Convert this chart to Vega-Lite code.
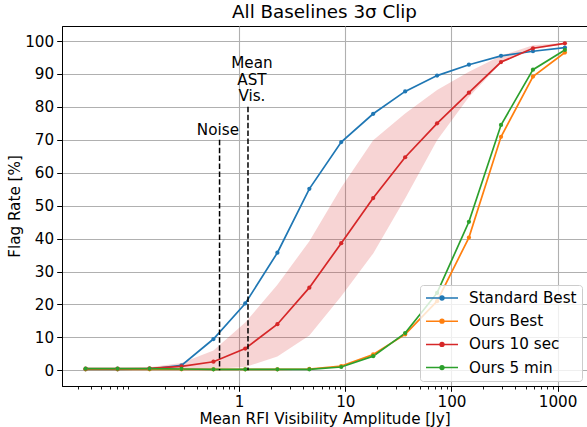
{
  "$schema": "https://vega.github.io/schema/vega-lite/v6.json",
  "width": 525,
  "height": 360,
  "autosize": {"type": "none"},
  "padding": {"left": 62, "top": 26, "right": 0, "bottom": 41},
  "title": {"text": "All Baselines 3σ Clip", "fontSize": 18.3, "fontWeight": "normal", "baseline": "bottom", "offset": 4, "dy": 18, "color": "black", "font": "DejaVu Sans", "frame": "group"},
  "datasets": {
    "series": [
      {"x": 0.0357, "series": "Standard Best", "rate": 0.3},
      {"x": 0.0714, "series": "Standard Best", "rate": 0.3},
      {"x": 0.143, "series": "Standard Best", "rate": 0.4},
      {"x": 0.286, "series": "Standard Best", "rate": 1.5},
      {"x": 0.572, "series": "Standard Best", "rate": 9.5},
      {"x": 1.14, "series": "Standard Best", "rate": 20.3},
      {"x": 2.29, "series": "Standard Best", "rate": 35.7},
      {"x": 4.58, "series": "Standard Best", "rate": 55.1},
      {"x": 9.15, "series": "Standard Best", "rate": 69.3},
      {"x": 18.3, "series": "Standard Best", "rate": 77.9},
      {"x": 36.6, "series": "Standard Best", "rate": 84.7},
      {"x": 73.2, "series": "Standard Best", "rate": 89.5},
      {"x": 146, "series": "Standard Best", "rate": 92.8},
      {"x": 293, "series": "Standard Best", "rate": 95.5},
      {"x": 586, "series": "Standard Best", "rate": 96.9},
      {"x": 1171, "series": "Standard Best", "rate": 98.0},
      {"x": 0.0357, "series": "Ours Best", "rate": 0.3},
      {"x": 0.0714, "series": "Ours Best", "rate": 0.3},
      {"x": 0.143, "series": "Ours Best", "rate": 0.3},
      {"x": 0.286, "series": "Ours Best", "rate": 0.3},
      {"x": 0.572, "series": "Ours Best", "rate": 0.3},
      {"x": 1.14, "series": "Ours Best", "rate": 0.3},
      {"x": 2.29, "series": "Ours Best", "rate": 0.3},
      {"x": 4.58, "series": "Ours Best", "rate": 0.4},
      {"x": 9.15, "series": "Ours Best", "rate": 1.3},
      {"x": 18.3, "series": "Ours Best", "rate": 4.8},
      {"x": 36.6, "series": "Ours Best", "rate": 10.9},
      {"x": 73.2, "series": "Ours Best", "rate": 21.0},
      {"x": 146, "series": "Ours Best", "rate": 40.3},
      {"x": 293, "series": "Ours Best", "rate": 70.9},
      {"x": 586, "series": "Ours Best", "rate": 89.2},
      {"x": 1171, "series": "Ours Best", "rate": 96.5},
      {"x": 0.0357, "series": "Ours 10 sec", "rate": 0.5},
      {"x": 0.0714, "series": "Ours 10 sec", "rate": 0.5},
      {"x": 0.143, "series": "Ours 10 sec", "rate": 0.6},
      {"x": 0.286, "series": "Ours 10 sec", "rate": 1.2},
      {"x": 0.572, "series": "Ours 10 sec", "rate": 2.6},
      {"x": 1.14, "series": "Ours 10 sec", "rate": 6.6},
      {"x": 2.29, "series": "Ours 10 sec", "rate": 14.0},
      {"x": 4.58, "series": "Ours 10 sec", "rate": 25.1},
      {"x": 9.15, "series": "Ours 10 sec", "rate": 38.6},
      {"x": 18.3, "series": "Ours 10 sec", "rate": 52.3},
      {"x": 36.6, "series": "Ours 10 sec", "rate": 64.7},
      {"x": 73.2, "series": "Ours 10 sec", "rate": 75.0},
      {"x": 146, "series": "Ours 10 sec", "rate": 84.3},
      {"x": 293, "series": "Ours 10 sec", "rate": 93.6},
      {"x": 586, "series": "Ours 10 sec", "rate": 97.8},
      {"x": 1171, "series": "Ours 10 sec", "rate": 99.3},
      {"x": 0.0357, "series": "Ours 5 min", "rate": 0.5},
      {"x": 0.0714, "series": "Ours 5 min", "rate": 0.5},
      {"x": 0.143, "series": "Ours 5 min", "rate": 0.5},
      {"x": 0.286, "series": "Ours 5 min", "rate": 0.4},
      {"x": 0.572, "series": "Ours 5 min", "rate": 0.3},
      {"x": 1.14, "series": "Ours 5 min", "rate": 0.3},
      {"x": 2.29, "series": "Ours 5 min", "rate": 0.3},
      {"x": 4.58, "series": "Ours 5 min", "rate": 0.3},
      {"x": 9.15, "series": "Ours 5 min", "rate": 1.0},
      {"x": 18.3, "series": "Ours 5 min", "rate": 4.3},
      {"x": 36.6, "series": "Ours 5 min", "rate": 11.3},
      {"x": 73.2, "series": "Ours 5 min", "rate": 23.5},
      {"x": 146, "series": "Ours 5 min", "rate": 45.1},
      {"x": 293, "series": "Ours 5 min", "rate": 74.5},
      {"x": 586, "series": "Ours 5 min", "rate": 91.3},
      {"x": 1171, "series": "Ours 5 min", "rate": 97.3}
    ],
    "band": [
      {"x": 0.0357, "lo": 0.4, "hi": 0.6},
      {"x": 0.0714, "lo": 0.4, "hi": 0.6},
      {"x": 0.143, "lo": 0.3, "hi": 0.9},
      {"x": 0.286, "lo": 0.3, "hi": 2.2},
      {"x": 0.572, "lo": 0.5, "hi": 6.0},
      {"x": 1.14, "lo": 1.0, "hi": 14.5},
      {"x": 2.29, "lo": 4.2, "hi": 26.0},
      {"x": 4.58, "lo": 10.6, "hi": 39.2},
      {"x": 9.15, "lo": 22.5, "hi": 55.5},
      {"x": 18.3, "lo": 35.5, "hi": 69.9},
      {"x": 36.6, "lo": 52.2, "hi": 78.0},
      {"x": 73.2, "lo": 69.9, "hi": 85.1},
      {"x": 146, "lo": 83.0, "hi": 90.7},
      {"x": 293, "lo": 93.3, "hi": 95.5},
      {"x": 586, "lo": 97.5, "hi": 98.7},
      {"x": 1171, "lo": 99.0, "hi": 99.5}
    ],
    "annot": [
      {"x": 0.653, "base": 0, "top": 70, "lx": 0.630, "label": "Noise"},
      {"x": 1.21, "base": 0, "top": 80, "lx": 1.317, "label": "Mean\nAST\nVis."}
    ]
  },
  "resolve": {"axis": {"x": "independent", "y": "independent"}},
  "layer": [
    {
      "data": {"name": "band"},
      "mark": {"type": "area", "color": "#d62728", "opacity": 0.2},
      "encoding": {
        "x": {"field": "x", "type": "quantitative",
          "scale": {"type": "log", "domain": [0.0214, 1892], "nice": false},
          "axis": {"orient": "bottom", "values": [0.03,0.04,0.05,0.06,0.07,0.08,0.09,0.2,0.3,0.4,0.5,0.6,0.7,0.8,0.9,2,3,4,5,6,7,8,9,20,30,40,50,60,70,80,90,200,300,400,500,600,700,800,900],
            "labels": false, "grid": false, "tickSize": 3, "domain": false, "title": null, "tickWidth": 0.9}},
        "y": {"field": "lo", "type": "quantitative", "scale": {"domain": [-4.77, 104.56], "nice": false, "zero": false},
          "axis": {"values": [0,10,20,30,40,50,60,70,80,90,100], "grid": true, "title": "Flag Rate [%]", "titlePadding": 2, "tickWidth": 1, "labelOverlap": false}},
        "y2": {"field": "hi"}
      }
    },
    {
      "data": {"name": "series"},
      "mark": {"type": "line", "strokeWidth": 1.7, "point": {"filled": true, "size": 18}},
      "encoding": {
        "x": {"field": "x", "type": "quantitative",
          "scale": {"type": "log", "domain": [0.0214, 1892], "nice": false},
          "axis": {"orient": "bottom", "values": [1, 10, 100, 1000], "format": "d", "grid": true, "title": "Mean RFI Visibility Amplitude [Jy]", "titlePadding": 2, "tickWidth": 1}},
        "y": {"field": "rate", "type": "quantitative", "axis": null},
        "color": {"field": "series", "type": "nominal",
          "scale": {"domain": ["Standard Best", "Ours Best", "Ours 10 sec", "Ours 5 min"], "range": ["#1f77b4", "#ff7f0e", "#d62728", "#2ca02c"]},
          "legend": {"title": null, "orient": "none", "legendX": 358, "legendY": 259,
            "symbolType": "M-1,0H1M-0.12,0A0.12,0.12,0,1,0,0.12,0A0.12,0.12,0,1,0,-0.12,0Z",
            "symbolSize": 1024, "symbolStrokeWidth": 1.5, "clipHeight": 16, "rowPadding": 6.2, "labelOffset": 10,
            "labelFontSize": 15.2, "labelColor": "black", "fillColor": "rgba(255,255,255,0.8)", "strokeColor": "#cccccc", "cornerRadius": 3, "padding": 5}
        }
      }
    },
    {
      "data": {"name": "annot"},
      "mark": {"type": "rule", "color": "black", "strokeWidth": 1.5, "strokeDash": [5.5, 2.4]},
      "encoding": {
        "x": {"field": "x", "type": "quantitative", "axis": null},
        "y": {"field": "top", "type": "quantitative", "axis": null},
        "y2": {"field": "base"}
      }
    },
    {
      "data": {"name": "annot"},
      "transform": [{"filter": "datum.label == 'Noise'"}],
      "mark": {"type": "text", "fontSize": 15.2, "color": "black", "baseline": "alphabetic", "align": "center", "dy": -4.5},
      "encoding": {
        "x": {"field": "lx", "type": "quantitative", "axis": null},
        "y": {"field": "top", "type": "quantitative", "axis": null},
        "text": {"field": "label"}
      }
    },
    {
      "data": {"name": "annot"},
      "transform": [{"filter": "datum.label != 'Noise'"}],
      "mark": {"type": "text", "fontSize": 15.2, "color": "black", "baseline": "alphabetic", "align": "center", "dy": -39, "lineBreak": "\n", "lineHeight": 16.8},
      "encoding": {
        "x": {"field": "lx", "type": "quantitative", "axis": null},
        "y": {"field": "top", "type": "quantitative", "axis": null},
        "text": {"field": "label"}
      }
    }
  ],
  "config": {
    "font": "DejaVu Sans",
    "view": {"stroke": "black", "strokeWidth": 1},
    "axis": {"domainColor": "black", "domainWidth": 1, "tickColor": "black", "labelColor": "black", "titleColor": "black", "labelFontSize": 15.2, "titleFontSize": 15.2, "titleFontWeight": "normal", "gridColor": "#b0b0b0", "gridWidth": 1.1, "tickSize": 5.3, "labelPadding": 3}
  }
}
